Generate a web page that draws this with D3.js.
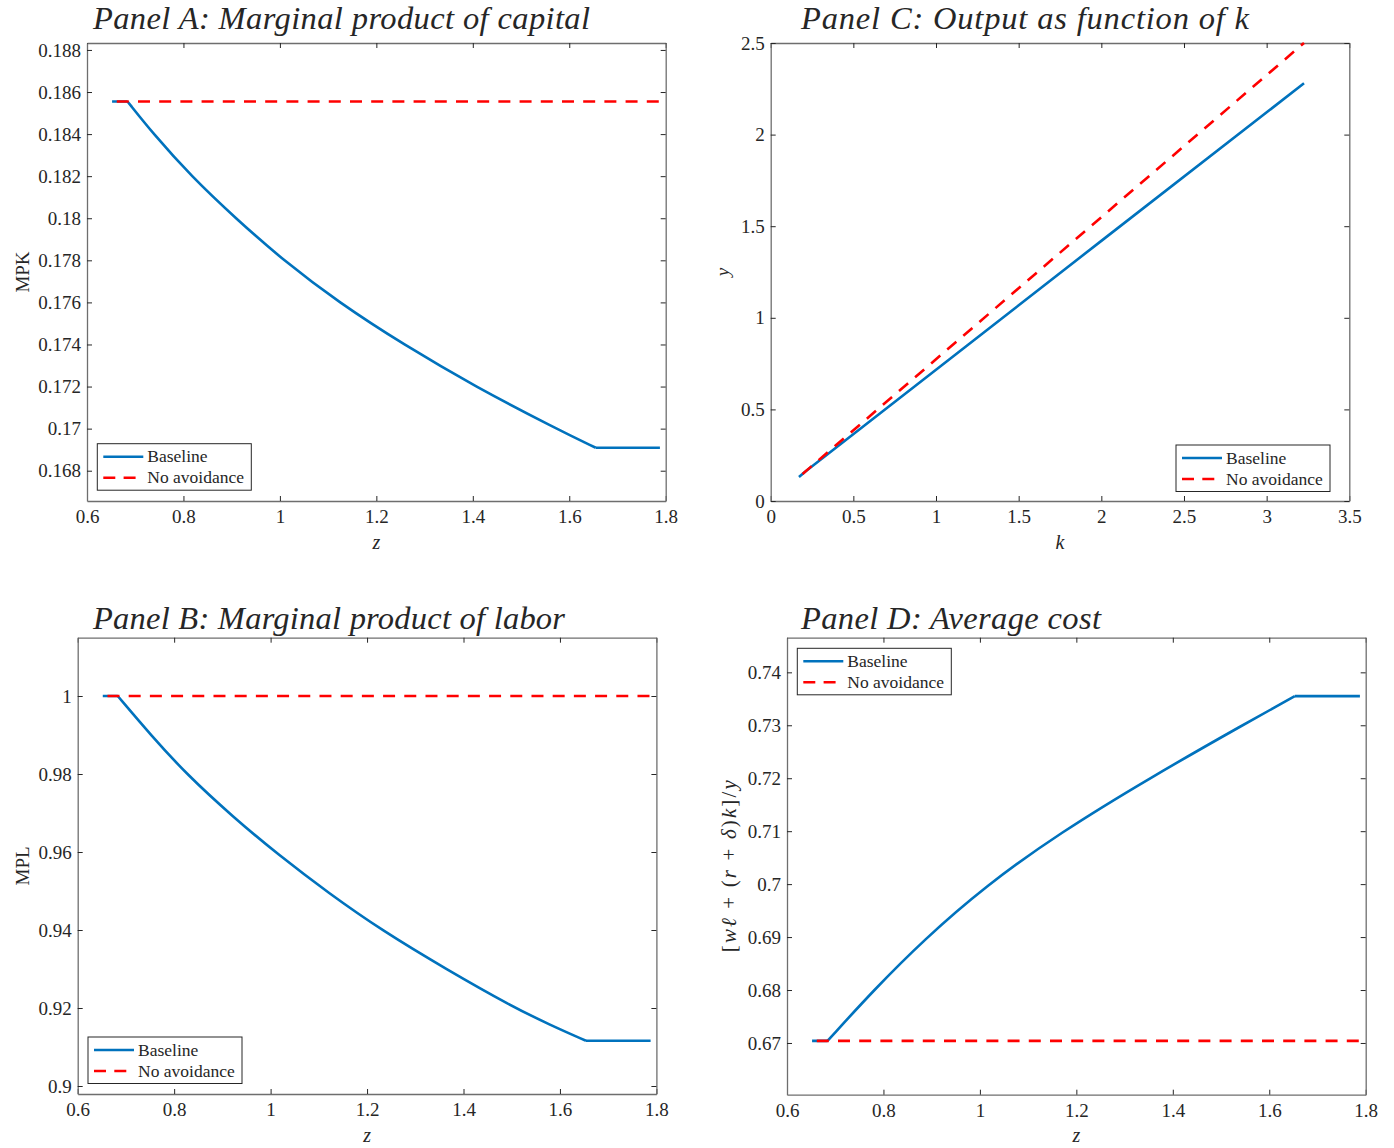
<!DOCTYPE html>
<html>
<head>
<meta charset="utf-8">
<script src="https://cdn.jsdelivr.net/npm/d3@7"></script>
<style>
  body { margin: 0; background: #fff; }
  svg text { font-family: "Liberation Serif", "Times New Roman", serif; fill: #262626; }
  .tick line { stroke: #262626; }
  .domain { stroke: #6e6e6e; stroke-width: 1.3; }
</style>
</head>
<body>
<svg id="fig" width="1394" height="1148"></svg>
<script>
// Panel A: marginal product of capital
const zMpk = [0.684, 0.738, 0.816, 0.908, 1.007, 1.122, 1.256, 1.405, 1.573, 1.655];
const mpkBase = [0.18555, 0.184, 0.182, 0.180, 0.178, 0.176, 0.174, 0.172, 0.170, 0.16909];
const mpkNoAvoid = 0.18555;

// Panel B: marginal product of labor
const zMpl = [0.683, 0.753, 0.826, 0.922, 1.017, 1.120, 1.232, 1.365, 1.499, 1.579, 1.654];
const mplBase = [1, 0.9898, 0.9799, 0.969, 0.9592, 0.9495, 0.9398, 0.9299, 0.9205, 0.9157, 0.9116];
const mplNoAvoid = 1;

// Panel C: output as function of k
const kBase = [0.171, 0.21, 1.0, 2.0, 3.226];
const yBase = [0.131, 0.161, 0.716, 1.42, 2.28];
const kNoAvoid = [0.171, 3.226];
const yNoAvoid = [0.131, 2.50];

// Panel D: average cost
const zCost = [0.684, 0.781, 0.884, 1.011, 1.166, 1.353, 1.552, 1.653];
const costBase = [0.6704, 0.6801, 0.6895, 0.6996, 0.7097, 0.7201, 0.7304, 0.7355];
const costNoAvoid = 0.6704;

// z grid end points (flat parts at both ends)
const zMin = 0.652, zMax = 1.788;

const zTicks = [0.6, 0.8, 1, 1.2, 1.4, 1.6, 1.8];
const mpkTicks = d3.range(0.168, 0.1881, 0.002);
const mplTicks = [0.9, 0.92, 0.94, 0.96, 0.98, 1];
const kTicks = [0, 0.5, 1, 1.5, 2, 2.5, 3, 3.5];
const yTicks = [0, 0.5, 1, 1.5, 2, 2.5];
const costTicks = [0.67, 0.68, 0.69, 0.7, 0.71, 0.72, 0.73, 0.74];

const BLUE = "#0072BD", RED = "#FF0000";
const svg = d3.select("#fig");
const fmt = d => String(+d.toFixed(4));

function panel(cfg) {
  const g = svg.append("g");
  const x = d3.scaleLinear().domain(cfg.xDomain).range([cfg.left, cfg.right]);
  const y = d3.scaleLinear().domain(cfg.yDomain).range([cfg.bottom, cfg.top]);

  const clipId = "clip" + cfg.id;
  g.append("clipPath").attr("id", clipId)
    .append("rect")
    .attr("x", cfg.left).attr("y", cfg.top - 2)
    .attr("width", cfg.right - cfg.left).attr("height", cfg.bottom - cfg.top + 2);

  // axes, box with inside ticks
  g.append("g").attr("transform", `translate(0,${cfg.bottom})`)
    .call(d3.axisBottom(x).tickValues(cfg.xTicks).tickSize(-5).tickSizeOuter(0).tickPadding(9).tickFormat(fmt))
    .call(a => a.selectAll("text").attr("font-size", 19));
  g.append("g").attr("transform", `translate(0,${cfg.top})`)
    .call(d3.axisTop(x).tickValues(cfg.xTicks).tickSize(-5).tickSizeOuter(0).tickFormat(""));
  g.append("g").attr("transform", `translate(${cfg.left},0)`)
    .call(d3.axisLeft(y).tickValues(cfg.yTicks).tickSize(-5).tickSizeOuter(0).tickPadding(6).tickFormat(fmt))
    .call(a => a.selectAll("text").attr("font-size", 19));
  g.append("g").attr("transform", `translate(${cfg.right},0)`)
    .call(d3.axisRight(y).tickValues(cfg.yTicks).tickSize(-5).tickSizeOuter(0).tickFormat(""));

  // series
  const lines = g.append("g").attr("clip-path", `url(#${clipId})`);
  cfg.series.forEach(s => {
    s.parts.forEach(p => {
      const gen = d3.line().x(d => x(d[0])).y(d => y(d[1]))
        .curve(p.smooth ? d3.curveBasis : d3.curveLinear);
      lines.append("path")
        .attr("d", gen(p.pts))
        .attr("fill", "none")
        .attr("stroke", s.color)
        .attr("stroke-width", 2.6)
        .attr("stroke-linejoin", "round")
        .attr("stroke-dasharray", s.dash ? "12,9.2" : null)
        .attr("stroke-dashoffset", s.dash ? 16.5 : null);
    });
  });

  // title
  g.append("text")
    .attr("x", cfg.titleX).attr("y", cfg.titleY)
    .attr("font-size", 32.5).attr("font-style", "italic")
    .attr("textLength", cfg.titleLength).attr("lengthAdjust", "spacing")
    .text(cfg.title);

  // x label
  g.append("text")
    .attr("x", (cfg.left + cfg.right) / 2).attr("y", cfg.bottom + 47.5)
    .attr("text-anchor", "middle").attr("font-size", 20).attr("font-style", "italic")
    .text(cfg.xLabel);

  // y label
  const yl = g.append("text")
    .attr("transform", `translate(${cfg.yLabelX},${(cfg.top + cfg.bottom) / 2}) rotate(-90)`)
    .attr("text-anchor", "middle").attr("font-size", cfg.yLabelSize || 19);
  if (cfg.yLabelLength) yl.attr("textLength", cfg.yLabelLength).attr("lengthAdjust", "spacing");
  cfg.yLabel.forEach(t => {
    yl.append("tspan").attr("font-style", t[1] ? "italic" : "normal").text(t[0]);
  });

  // legend
  const L = cfg.legend;
  const lg = g.append("g");
  lg.append("rect")
    .attr("x", L.x).attr("y", L.y).attr("width", 154).attr("height", 46.5)
    .attr("fill", "#fff").attr("stroke", "#262626").attr("stroke-width", 1);
  const items = [["Baseline", BLUE, false], ["No avoidance", RED, true]];
  items.forEach((it, i) => {
    const ry = L.y + 13 + i * 21;
    lg.append("line")
      .attr("x1", L.x + 6).attr("x2", L.x + 46).attr("y1", ry).attr("y2", ry)
      .attr("stroke", it[1]).attr("stroke-width", 2.6)
      .attr("stroke-dasharray", it[2] ? "12,8.3" : null);
    lg.append("text")
      .attr("x", L.x + 50).attr("y", ry).attr("dy", "0.33em")
      .attr("font-size", 17.5)
      .text(it[0]);
  });
}

const pairs = (xs, ys) => xs.map((v, i) => [v, ys[i]]);
const flatSeries = (v) => [[zMin, v], [zMax, v]];

function zSeries(zs, vals, noAvoid) {
  const n = zs.length;
  return [
    { color: BLUE, parts: [
      { pts: [[zMin, vals[0]], [zs[0], vals[0]]] },
      { pts: pairs(zs, vals), smooth: true },
      { pts: [[zs[n - 1], vals[n - 1]], [zMax, vals[n - 1]]] }
    ] },
    { color: RED, dash: true, parts: [{ pts: flatSeries(noAvoid) }] }
  ];
}

panel({
  id: "A", left: 87, right: 665.7, top: 43, bottom: 501,
  xDomain: [0.6, 1.8], yDomain: [0.16656, 0.18833],
  xTicks: zTicks, yTicks: mpkTicks,
  title: "Panel A: Marginal product of capital", titleX: 93, titleY: 29, titleLength: 497,
  xLabel: "z", yLabel: [["MPK", false]], yLabelX: 29,
  legend: { x: 97.3, y: 443.7 },
  series: zSeries(zMpk, mpkBase, mpkNoAvoid)
});

panel({
  id: "C", left: 770.7, right: 1349.3, top: 43, bottom: 501,
  xDomain: [0, 3.5], yDomain: [0, 2.5],
  xTicks: kTicks, yTicks: yTicks,
  title: "Panel C: Output as function of k", titleX: 801, titleY: 29, titleLength: 448,
  xLabel: "k", yLabel: [["y", true]], yLabelX: 729,
  legend: { x: 1176, y: 445 },
  series: [
    { color: BLUE, parts: [{ pts: pairs(kBase, yBase) }] },
    { color: RED, dash: true, parts: [{ pts: pairs(kNoAvoid, yNoAvoid) }] }
  ]
});

panel({
  id: "B", left: 77.7, right: 656.4, top: 637.7, bottom: 1094,
  xDomain: [0.6, 1.8], yDomain: [0.89795, 1.01495],
  xTicks: zTicks, yTicks: mplTicks,
  title: "Panel B: Marginal product of labor", titleX: 93, titleY: 629, titleLength: 472,
  xLabel: "z", yLabel: [["MPL", false]], yLabelX: 29,
  legend: { x: 88, y: 1037 },
  series: zSeries(zMpl, mplBase, mplNoAvoid)
});

panel({
  id: "D", left: 787, right: 1365.7, top: 637.7, bottom: 1094.7,
  xDomain: [0.6, 1.8], yDomain: [0.66023, 0.74654],
  xTicks: zTicks, yTicks: costTicks,
  title: "Panel D: Average cost", titleX: 801, titleY: 629, titleLength: 300,
  xLabel: "z",
  yLabel: [["[", false], ["wℓ", true], [" + (", false], ["r", true], [" + ", false], ["δ", true],
           [")", false], ["k", true], ["]/", false], ["y", true]],
  yLabelX: 736, yLabelSize: 21, yLabelLength: 172,
  legend: { x: 797.3, y: 648.3 },
  series: zSeries(zCost, costBase, costNoAvoid)
});
</script>
</body>
</html>
